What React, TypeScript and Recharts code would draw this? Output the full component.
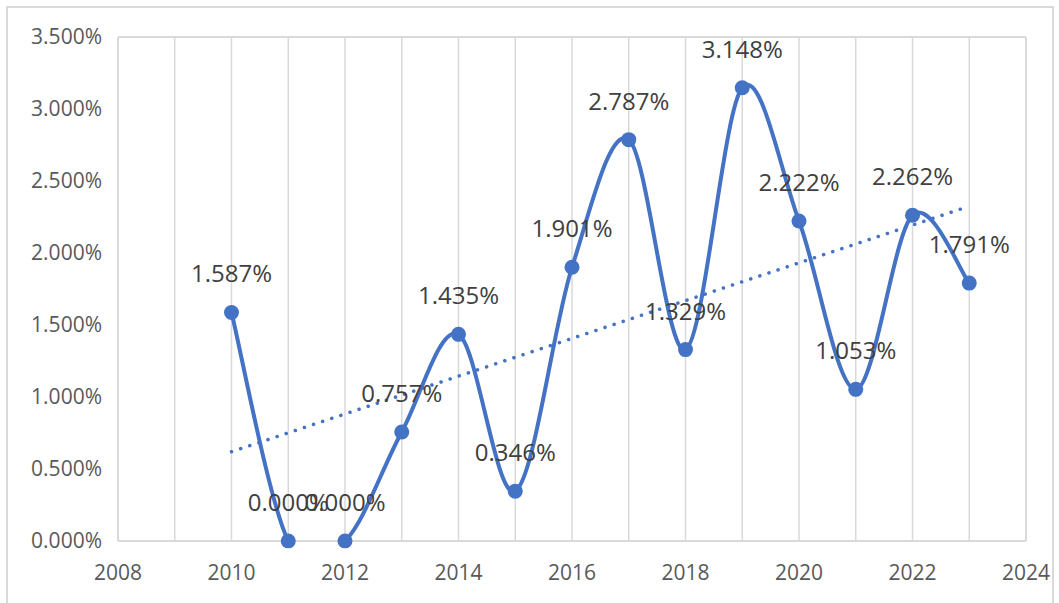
import { LineChart, Line, XAxis, YAxis, CartesianGrid, ReferenceLine, LabelList } from "recharts";

const years = [2010, 2011, 2012, 2013, 2014, 2015, 2016, 2017, 2018, 2019, 2020, 2021, 2022, 2023];
const rates = [1.587, 0, 0, 0.757, 1.435, 0.346, 1.901, 2.787, 1.329, 3.148, 2.222, 1.053, 2.262, 1.791];

// dotted linear trendline, endpoints
const trendYears = [2010, 2023];
const trendValues = [0.62, 2.325];

const xTicks = [2008, 2009, 2010, 2011, 2012, 2013, 2014, 2015, 2016, 2017, 2018, 2019, 2020, 2021, 2022, 2023, 2024];
const yTicks = [0, 0.5, 1, 1.5, 2, 2.5, 3, 3.5];

const data = years.map((year, i) => ({ year, value: rates[i] }));
const trendData = trendYears.map((year, i) => ({ year, trend: trendValues[i] }));

const BLUE = "#4472C4";
const GRID = "#d9d9d9";
const FONT = "'Open Sans', sans-serif";

// excel-style smoothing (catmull-rom through each point)
function excelCurve(ctx: any) {
  let pts: [number, number][] = [];
  return {
    areaStart() {},
    areaEnd() {},
    lineStart() {
      pts = [];
    },
    lineEnd() {
      if (!pts.length) return;
      ctx.moveTo(pts[0][0], pts[0][1]);
      for (let i = 0; i < pts.length - 1; i++) {
        const p0 = pts[Math.max(i - 1, 0)];
        const p1 = pts[i];
        const p2 = pts[i + 1];
        const p3 = pts[Math.min(i + 2, pts.length - 1)];
        ctx.bezierCurveTo(
          p1[0] + (p2[0] - p0[0]) / 6,
          p1[1] + (p2[1] - p0[1]) / 6,
          p2[0] - (p3[0] - p1[0]) / 6,
          p2[1] - (p3[1] - p1[1]) / 6,
          p2[0],
          p2[1]
        );
      }
    },
    point(x: number, y: number) {
      pts.push([x, y]);
    },
  };
}

export default function App() {
  return (
    <div
      style={{
        position: "absolute",
        left: 0,
        top: 0,
        width: 1059,
        height: 603,
        overflow: "hidden",
        background: "#fff",
      }}
    >
      {/* outer chart frame */}
      <div
        style={{
          position: "absolute",
          left: 6,
          top: 6,
          width: 1044,
          height: 640,
          border: `2px solid ${GRID}`,
        }}
      />
      <div style={{ position: "absolute", left: 0, top: 0 }}>
        <LineChart
          width={1059}
          height={603}
          margin={{ top: 37, right: 33, bottom: 0, left: 0 }}
        >
          <CartesianGrid horizontal={false} stroke={GRID} strokeWidth={1.5} />
          <XAxis
            dataKey="year"
            type="number"
            domain={[2008, 2024]}
            ticks={xTicks}
            interval={0}
            allowDuplicatedCategory={false}
            tickFormatter={(v: number) => (v % 2 === 0 ? String(v) : "")}
            tick={{ fill: "#595959", fontSize: 21, fontFamily: FONT }}
            axisLine={{ stroke: GRID, strokeWidth: 2 }}
            tickLine={false}
            tickSize={0}
            tickMargin={24}
            height={62}
          />
          <YAxis
            type="number"
            domain={[0, 3.5]}
            ticks={yTicks}
            allowDataOverflow
            tickFormatter={(v: number) => v.toFixed(3) + "%"}
            tick={{ fill: "#595959", fontSize: 21, fontFamily: FONT }}
            axisLine={{ stroke: GRID, strokeWidth: 2 }}
            tickLine={false}
            tickSize={0}
            tickMargin={16}
            width={118}
          />
          <ReferenceLine y={3.5} stroke={GRID} strokeWidth={2} />
          <ReferenceLine x={2024} stroke={GRID} strokeWidth={2} />

          {/* trendline */}
          <Line
            data={trendData}
            dataKey="trend"
            type="linear"
            stroke={BLUE}
            strokeWidth={3.5}
            strokeLinecap="round"
            strokeDasharray="0.1 9.5"
            dot={false}
            activeDot={false}
            isAnimationActive={false}
          />

          <Line
            data={data}
            dataKey="value"
            type={excelCurve as any}
            stroke={BLUE}
            strokeWidth={4}
            dot={{ r: 7.5, fill: BLUE, stroke: BLUE, strokeWidth: 0, clipDot: false } as any}
            activeDot={false}
            isAnimationActive={false}
          >
            <LabelList
              dataKey="value"
              position="top"
              offset={30}
              formatter={(v: any) => Number(v).toFixed(3) + "%"}
              style={{ fill: "#404040", fontSize: 24, fontFamily: FONT }}
            />
          </Line>
        </LineChart>
      </div>
    </div>
  );
}
